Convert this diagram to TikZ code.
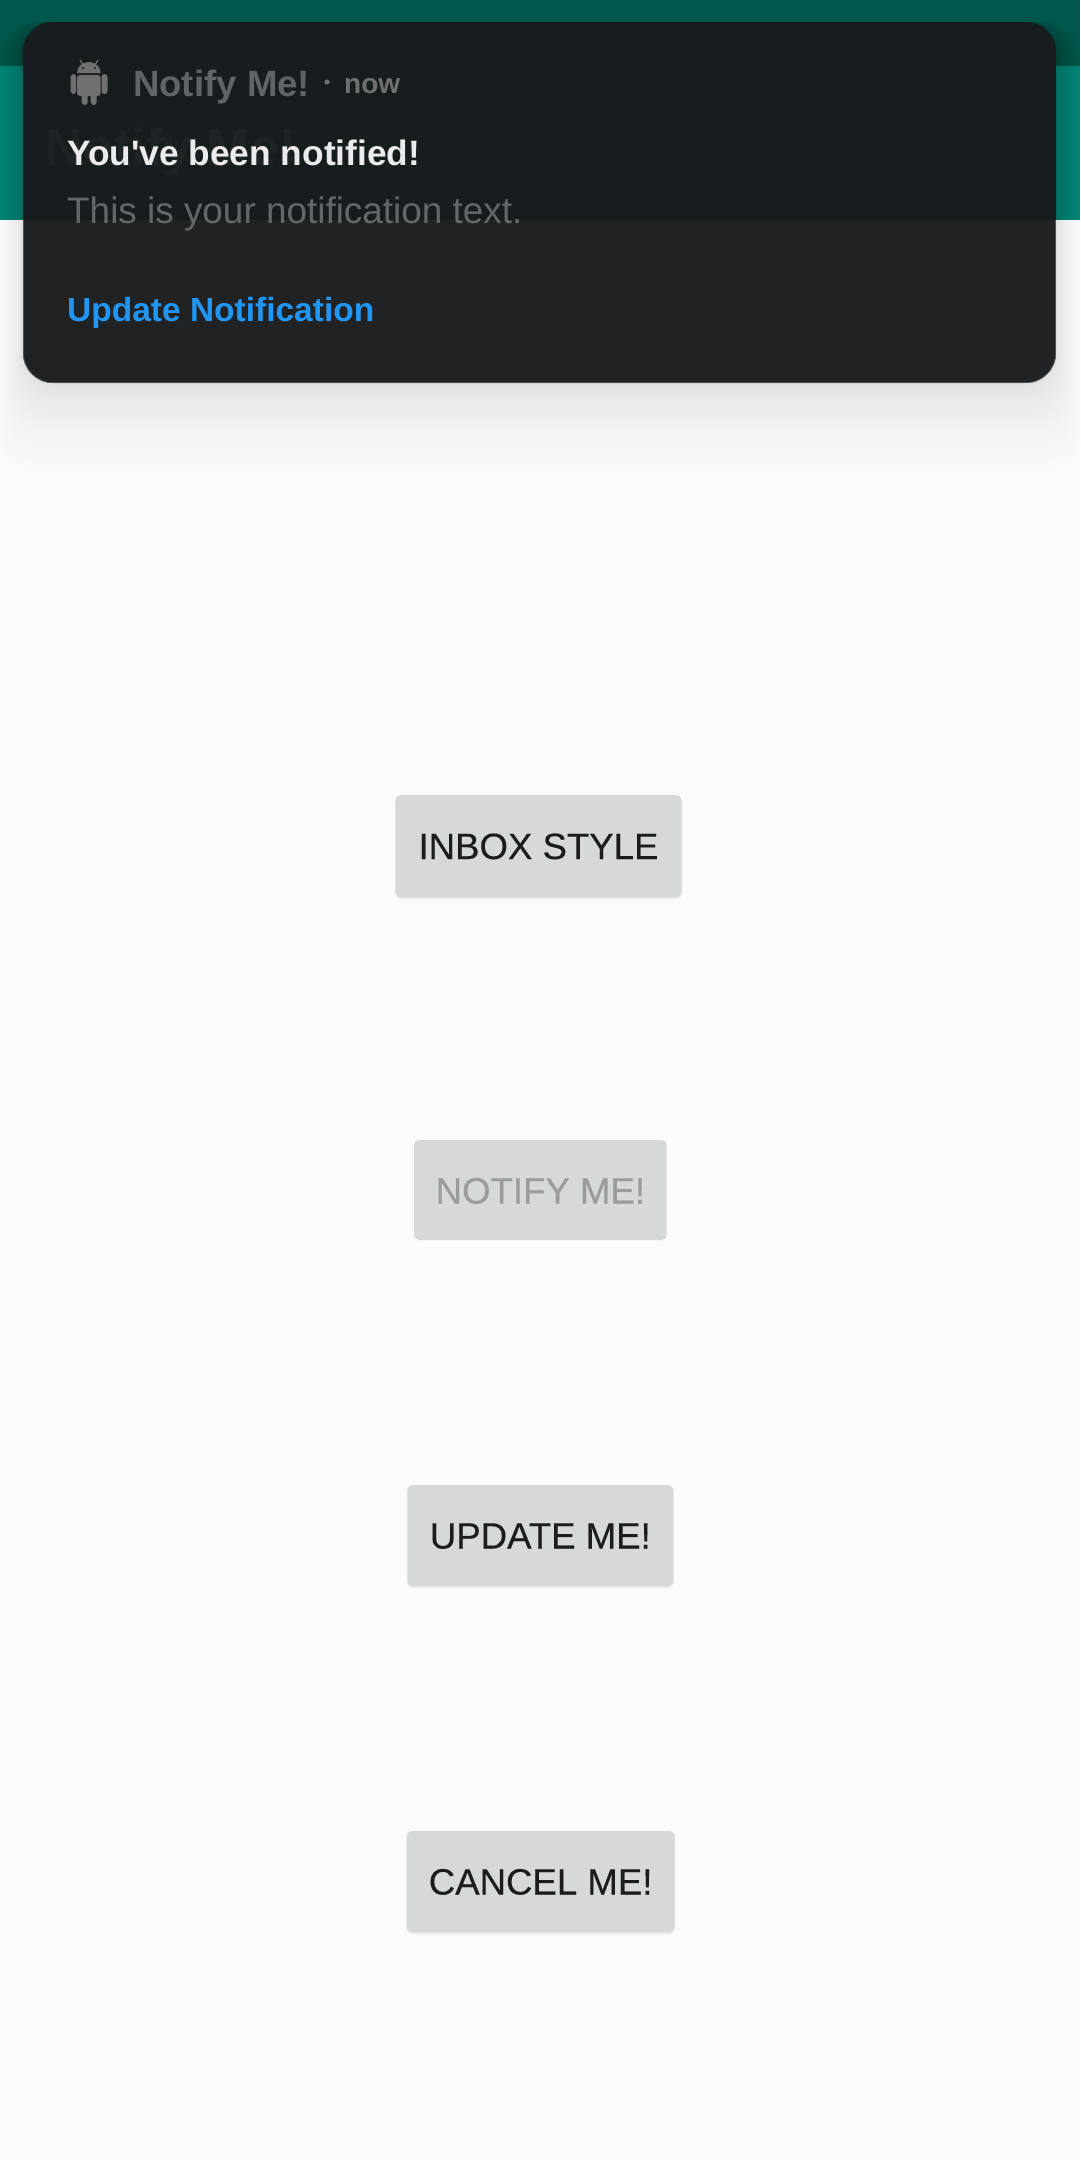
\documentclass[tikz,border=0pt]{standalone}
\usepackage{fontspec}
\setmainfont{Liberation Sans}
\newfontfamily\btnfont[FakeBold=0.25]{Liberation Sans}
\definecolor{pagebg}{HTML}{FBFBFB}
\definecolor{statusbar}{HTML}{00574B}
\definecolor{toolbar}{HTML}{008577}
\definecolor{cardtop}{HTML}{171D1F}
\definecolor{cardlow}{HTML}{212224}
\definecolor{cardedge}{HTML}{6A6A6A}
\definecolor{ghosttitle}{HTML}{1E2325}
\definecolor{btnfill}{HTML}{D7D8D8}
\definecolor{btntext}{HTML}{1C1C1C}
\definecolor{btnoff}{HTML}{9B9B9B}
\definecolor{iconcol}{HTML}{6F7071}
\definecolor{appcol}{HTML}{5F6566}
\definecolor{bodycol}{HTML}{626869}
\definecolor{actioncol}{HTML}{2196F3}
\newcommand{\fsz}[1]{\fontsize{#1}{#1}\selectfont}
\begin{document}
\begin{tikzpicture}[x=1pt, y=-1pt, line join=round, line cap=round]
	\tikzset{
		btn/.style={fill=btnfill, rounded corners=5pt, inner sep=0pt, text=btntext, text height=27pt, text depth=0pt, font=\btnfont\fsz{36.6}},
		cardtext/.style={anchor=base west, inner sep=0pt},
	}
	\useasboundingbox (0,0) rectangle (1080,2160);
	\fill[pagebg] (0,0) rectangle (1080,2160);
	\fill[statusbar] (0,0) rectangle (1080,66);
	\fill[toolbar] (0,66) rectangle (1080,220);
	% soft shadow of the card
	\foreach \i in {1,2,...,30}
		\fill[black, opacity=0.0035, rounded corners=36pt] ({23-26*(\i/30)^2},22) rectangle ({1056+26*(\i/30)^2},{383+90*(\i/30)^2});
	% card
	\begin{scope}
		\clip[rounded corners=30pt] (23,22) rectangle (1056,383);
		\fill[cardlow] (23,22) rectangle (1056,383);
		\fill[cardtop] (23,22) rectangle (1056,220);
		\clip (0,220) rectangle (1080,400);
		\draw[cardedge, line width=1.2pt, rounded corners=30pt] (23,22) rectangle (1056,383);
	\end{scope}
	% toolbar title, seen through the card
	\node[cardtext, text=ghosttitle, font=\fsz{52}\bfseries] (toolbartitle) at (45,165) {Notify Me!};
	% android icon
	\begin{scope}[iconcol]
		\fill (77,73) arc[start angle=180, end angle=360, x radius=11.85, y radius=11] -- cycle;
		\draw[line width=1.2pt] (83,65)--(80,60) (95,65)--(98,60);
		\fill[rounded corners=3pt] (77,75) rectangle (100.7,96);
		\fill[rounded corners=3pt] (70.7,74) rectangle (76.2,94);
		\fill[rounded corners=3pt] (101.5,74) rectangle (107.5,94);
		\fill[rounded corners=3pt] (81.7,90) rectangle (87.7,105);
		\fill[rounded corners=3pt] (90.7,90) rectangle (96.7,105);
		\fill[cardtop] (83,68) circle (1.2pt) (95,68) circle (1.2pt);
	\end{scope}
	\node[cardtext, text=appcol, font=\fsz{36.6}\bfseries] (appname) at (133,96.5) {Notify Me!};
	\fill[iconcol] (327,82) circle (2.6pt);
	\node[cardtext, text=iconcol, font=\fsz{28}\bfseries] (nowlabel) at (344,93) {now};
	\node[cardtext, text=white!92!black, font=\fsz{35.3}\bfseries] (titletext) at (67,165) {You\textquotesingle ve been notified!};
	\node[cardtext, text=bodycol, font=\fsz{36.9}] (bodytext) at (67,223.5) {This is your notification text.};
	\node[cardtext, text=actioncol, font=\fsz{33.5}\bfseries] (actiontext) at (67,321.5) {Update Notification};
	% buttons, the disabled one has no shadow
	\foreach \i in {1,2,...,6}
		\foreach \xa/\xb/\ya/\yb in {396/681/795/896, 408/672.7/1485/1585, 407.3/674/1831/1931}
			\fill[black, opacity=0.025, rounded corners=6pt] ({\xa-0.2*\i},\ya) rectangle ({\xb+0.2*\i},{\yb+0.6*\i});
	\node[btn, minimum width=285pt, minimum height=101pt] (inboxbtn) at (538.5,845.5) {INBOX STYLE};
	\node[btn, minimum width=252.7pt, minimum height=100pt, text=btnoff] (notifybtn) at (540.35,1190) {NOTIFY ME!};
	\node[btn, minimum width=264.7pt, minimum height=100pt] (updatebtn) at (540.35,1535) {UPDATE ME!};
	\node[btn, minimum width=266.7pt, minimum height=100pt] (cancelbtn) at (540.65,1881) {CANCEL ME!};
\end{tikzpicture}
\end{document}
